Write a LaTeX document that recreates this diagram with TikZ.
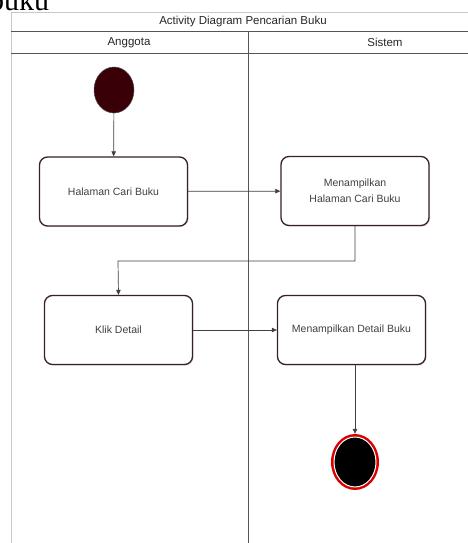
\documentclass[tikz,border=0pt]{standalone}
\usepackage{fontspec}
\setmainfont{Liberation Sans}
\newfontfamily\capserif{Liberation Serif}
\usetikzlibrary{arrows.meta,shadows,shapes.geometric}
\definecolor{maroon}{HTML}{3A0008}
\definecolor{boxline}{HTML}{3A2022}
\definecolor{frameline}{HTML}{555555}
\definecolor{lightframe}{HTML}{C8C8C8}
\tikzset{
  x=1pt, y=-1pt,
  actbox/.style={draw=boxline, line width=1.3pt, rounded corners=8pt, fill=white,
    minimum width=148pt, minimum height=69pt, align=center, font=\fontsize{10.5}{16}\selectfont,
    text=black!75, drop shadow={shadow xshift=1pt, shadow yshift=-1pt, opacity=0.25}},
  flow/.style={draw=black!75, line width=0.7pt, -{Triangle[length=5pt,width=4.5pt]}},
  lanetext/.style={font=\fontsize{11.5}{12}\selectfont, text=black!85},
}
\begin{document}
\begin{tikzpicture}
\useasboundingbox (0,0) rectangle (468,543);
\fill[white] (0,0) rectangle (468,543);
% cropped caption fragment
\node[anchor=base west, inner sep=0pt, font=\capserif\fontsize{30}{30}\selectfont] (cap) at (-11,11) {buku};
% frame
\draw[lightframe, line width=0.8pt] (11,12) -- (470,12);
\draw[lightframe, line width=0.8pt] (11,12) -- (11,545);
\draw[frameline, line width=0.9pt] (11,31) -- (470,31);
\draw[frameline, line width=0.9pt] (11,53) -- (470,53);
\draw[frameline, line width=0.9pt] (248,31) -- (248,545);
\node[lanetext] (title) at (243,21.5) {Activity Diagram Pencarian Buku};
\node[lanetext] (lane1) at (129,42.5) {Anggota};
\node[lanetext] (lane2) at (385,42.5) {Sistem};
% start
\node[draw=black!70, fill=maroon, ellipse, minimum width=40pt, minimum height=46pt, inner sep=0pt, line width=0.5pt] (start) at (114,90) {};
% activities
\node[actbox] (a1) at (113.5,191.5) {Halaman Cari Buku};
\node[actbox] (a2) at (355,191) {Menampilkan\\Halaman Cari Buku};
\node[actbox] (a3) at (118.5,330) {Klik Detail};
\node[actbox] (a4) at (351.5,330) {Menampilkan Detail Buku};
% end
\node[ellipse, fill=red!85!black, minimum width=48pt, minimum height=56pt, inner sep=0pt] (endo) at (355,462) {};
\node[ellipse, draw=white, line width=1pt, fill=black, minimum width=42pt, minimum height=50pt, inner sep=0pt] (endi) at (355,462) {};
% connectors
\draw[flow] (start) -- (a1);
\draw[flow] (a1) -- (a2);
\draw[flow] (a2.south) |- (118,261) -- (a3.north);
\draw[flow] (a3) -- (a4);
\draw[flow] (endo.north |- a4.south) -- (endo.north);
\end{tikzpicture}
\end{document}
